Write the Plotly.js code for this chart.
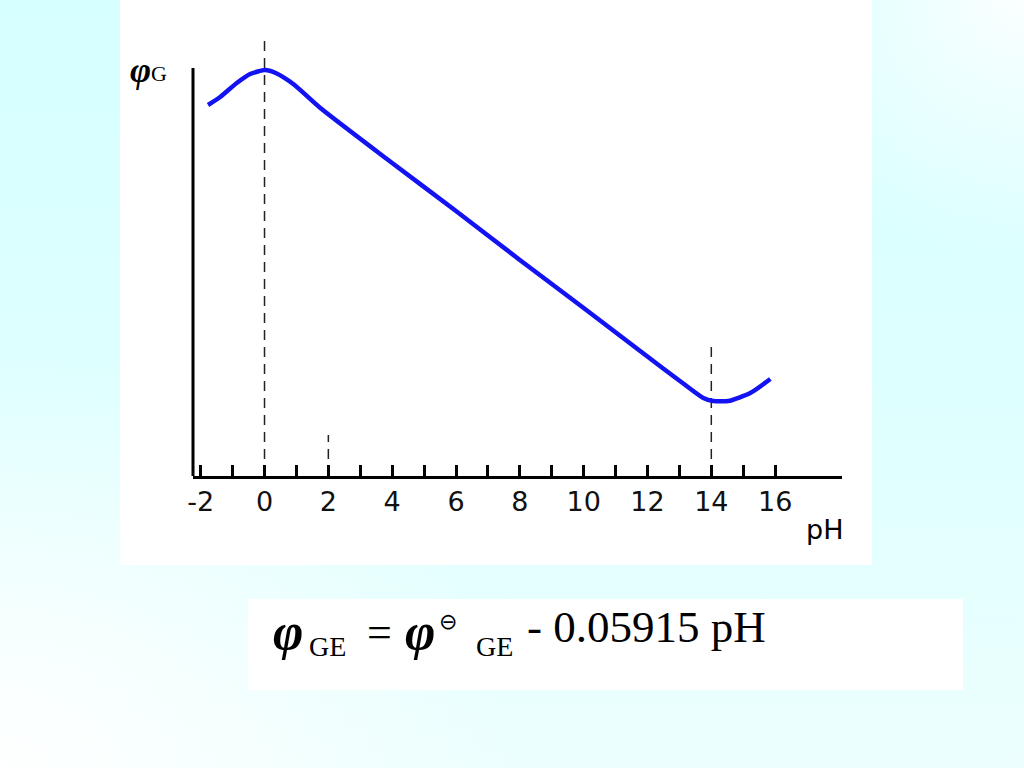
<!DOCTYPE html>
<html>
<head>
<meta charset="utf-8">
<script src="https://cdn.plot.ly/plotly-3.0.1.min.js"></script>
<style>
html,body{margin:0;padding:0;width:1024px;height:768px;overflow:hidden;}
body{background:
  radial-gradient(ellipse 520px 420px at 0px 768px, rgba(255,255,255,0.95), rgba(255,255,255,0) 100%),
  radial-gradient(ellipse 300px 260px at 1024px 0px, rgba(255,255,255,0.9), rgba(255,255,255,0) 100%),
  linear-gradient(180deg,#d6ffff 0%,#e0ffff 60%,#ecfffe 100%);}
#p1{position:absolute;left:120px;top:0px;width:752px;height:565px;background:#fff;}
#p2{position:absolute;left:248px;top:599px;width:715px;height:91px;background:#fff;}
#chart{position:absolute;left:0;top:0;width:1024px;height:768px;}
</style>
</head>
<body>
<div id="p1"></div>
<div id="p2"></div>
<div id="chart"></div>
<script>
// curve (pH, relative potential)
const pH = [-1.77, -1.39, -0.87, -0.45, 0.02, 0.35, 0.90, 1.75, 4.0, 6.0, 8.0, 10.0, 12.1, 13.1, 13.75, 14.06, 14.53, 15.22, 15.85];
const phiG = [3.71, 3.79, 3.93, 4.02, 4.06, 4.03, 3.92, 3.68, 3.13, 2.65, 2.16, 1.68, 1.17, 0.93, 0.78, 0.75, 0.75, 0.83, 0.97];
// dashed guide lines
const guideX = [0, 14, 2];
const guideTop = [4.36, 1.31, 0.41];
const tickVals = [-2,-1,0,1,2,3,4,5,6,7,8,9,10,11,12,13,14,15,16];
const tickText = ["-2","","0","","2","","4","","6","","8","","10","","12","","14","","16"];
const yAxisTop = 4.08;

const L=193, R=841.7, T=30, B=476;
const W=R-L, H=B-T;
const px=(x)=>(x-L)/W, py=(y)=>(B-y)/H;

const traces = [];
guideX.forEach((g,i)=>{
  traces.push({x:[g,g], y:[0,guideTop[i]], mode:'lines', line:{color:'#222',width:1.5,dash:'10px,7px'}, hoverinfo:'skip', showlegend:false});
});
traces.push({x:pH, y:phiG, mode:'lines', line:{color:'#1212f2', width:4.5, shape:'spline', smoothing:0.6}, showlegend:false});

const serif = 'Liberation Serif, Times New Roman, serif';
const sans = 'DejaVu Sans, Verdana, sans-serif';
const ann = (x,y,text,size,fam,anchor)=>({xref:'paper',yref:'paper',x:px(x),y:py(y),text:text,showarrow:false,xanchor:anchor||'left',yanchor:'middle',borderpad:0,font:{family:fam,size:size,color:'#000'}});

const layout = {
  width:1024, height:768,
  margin:{l:L, r:1024-R, t:T, b:768-B, pad:0},
  paper_bgcolor:'rgba(0,0,0,0)', plot_bgcolor:'rgba(0,0,0,0)',
  xaxis:{range:[-2.241,18.095], tickmode:'array', tickvals:tickVals, ticktext:tickText,
    ticks:'inside', ticklen:11, tickwidth:3, tickcolor:'#000', showline:true, linewidth:3, linecolor:'#000',
    showgrid:false, zeroline:false, tickfont:{family:sans,size:27,color:'#111'}, fixedrange:true},
  yaxis:{range:[0,H/100], showline:false, showticklabels:false, ticks:'', showgrid:false, zeroline:false, fixedrange:true},
  shapes:[{type:'line', xref:'paper', yref:'y', x0:0, x1:0, y0:0, y1:yAxisTop, line:{color:'#000', width:3}}],
  annotations:[
    ann(129,70,'<b><i>φ</i></b>',36,serif),
    ann(150,74,'G',22,serif),
    ann(805,529,'pH',27,sans),
    ann(272,631,'<b><i>φ</i></b>',52,serif),
    ann(308,646,'GE',28,serif),
    ann(366,632,'=',44,serif),
    ann(404,631,'<b><i>φ</i></b>',52,serif),
    ann(438,621,'⊖',22,sans),
    ann(475,646,'GE',28,serif),
    ann(526,627,'- 0.05915 pH',45,serif)
  ]
};
Plotly.newPlot('chart', traces, layout, {staticPlot:true, displayModeBar:false});
</script>
</body>
</html>
